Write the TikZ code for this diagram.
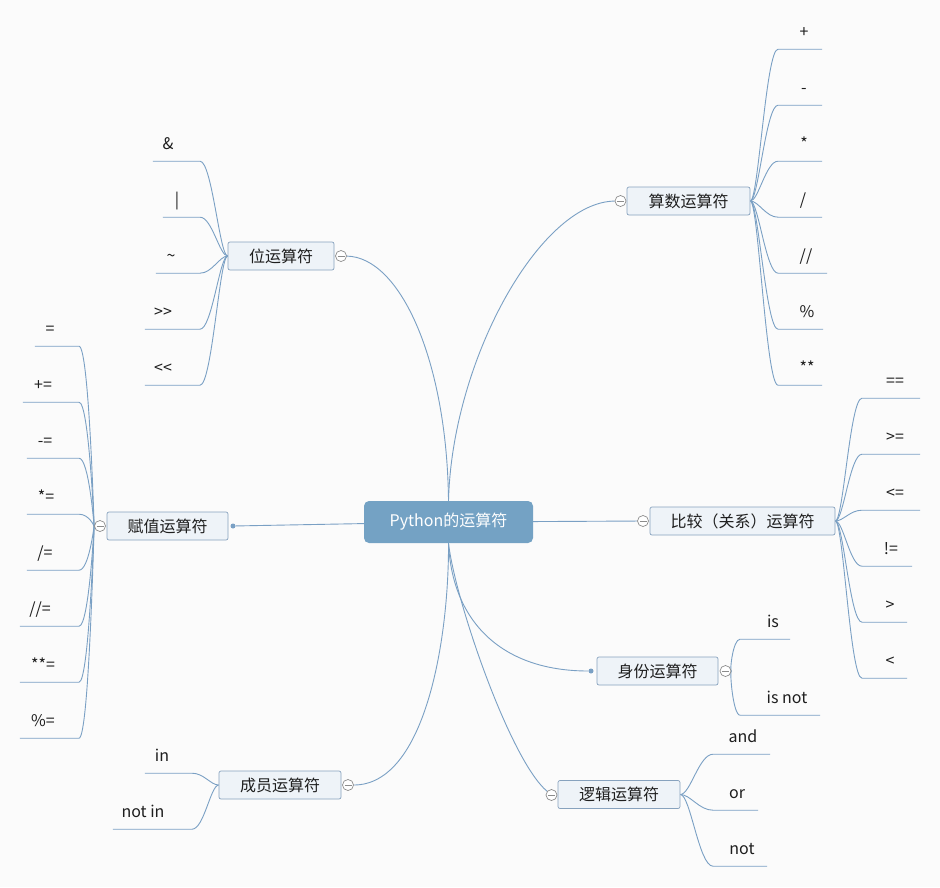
\documentclass[tikz,border=0pt]{standalone}
\usepackage{fontspec}
\newfontfamily\cjk{Noto Sans CJK SC}
\definecolor{linec}{RGB}{122,160,196}
\definecolor{boxfill}{RGB}{238,243,248}
\definecolor{boxdraw}{RGB}{135,162,190}
\definecolor{mainfill}{RGB}{116,162,196}
\definecolor{foldc}{RGB}{140,140,140}
\definecolor{textc}{RGB}{30,30,30}
\definecolor{bgc}{RGB}{251,251,251}
\pgfdeclarelayer{bg}
\pgfsetlayers{bg,main}
\begin{document}
\begin{tikzpicture}[x=1pt,y=-1pt,
 link/.style={draw=linec, line width=0.9pt},
 central/.style={fill=mainfill, rounded corners=5pt, minimum width=169pt, minimum height=42pt, inner sep=0, text=white, font=\cjk\fontsize{16}{19}\selectfont},
 branch/.style={draw=boxdraw, fill=boxfill, rounded corners=2pt, minimum height=28pt, inner sep=0, line width=0.7pt, text=textc, font=\cjk\fontsize{16}{19}\selectfont},
 leaf/.style={inner sep=0, minimum height=32pt, text height=11.5pt, text depth=3.5pt, text=textc, font=\cjk\fontsize{16}{19}\selectfont},
 fold/.style={circle, draw=foldc, fill=white, line width=0.7pt, minimum size=11pt, inner sep=0, path picture={\draw[foldc, line width=0.7pt] ([xshift=-3.5pt]path picture bounding box.center) -- ([xshift=3.5pt]path picture bounding box.center);}},
 dotm/.style={circle, fill=linec, minimum size=5pt, inner sep=0}]
\begin{pgfonlayer}{bg}
\fill[bgc] (0,0) rectangle (940,887);
\end{pgfonlayer}
\useasboundingbox (0,0) rectangle (940,887);

% central and branch nodes
\node[central] (c) at (448.5,522) {Python的运算符};
\node[branch, minimum width=123pt] (ar) at (688.5,201) {算数运算符};
\node[fold] (arF) at (620.5,201) {};
\node[branch, minimum width=106pt] (bit) at (281,256) {位运算符};
\node[fold] (bitF) at (341,256) {};
\node[branch, minimum width=121pt] (asg) at (167.5,526) {赋值运算符};
\node[fold] (asgF) at (100,526) {};
\node[dotm] (asgD) at (233,526) {};
\node[branch, minimum width=185pt] (cmp) at (742.5,521) {比较（关系）运算符};
\node[fold] (cmpF) at (643,521) {};
\node[branch, minimum width=121pt] (idn) at (657.5,671) {身份运算符};
\node[fold] (idnF) at (725.5,671) {};
\node[dotm] (idnD) at (591,671) {};
\node[branch, minimum width=122pt] (lg) at (619,794.5) {逻辑运算符};
\node[fold] (lgF) at (551.5,795) {};
\node[branch, minimum width=122pt] (mem) at (280,785) {成员运算符};
\node[fold] (memF) at (348,785) {};

% inner ends of leaf lines
\coordinate (arX) at (778,0);
\coordinate (cmpX) at (862,0);
\coordinate (idnX) at (740,0);
\coordinate (lgX) at (713,0);
\coordinate (bitX) at (200,0);
\coordinate (asgX) at (79,0);
\coordinate (memX) at (192,0);

% main connectors
\begin{pgfonlayer}{bg}
\draw[link] (c.north) .. controls (452,360) and (540,202) .. (arF);
\draw[link] (c.north) .. controls (447,360) and (400,257) .. (bitF);
\draw[link] (c) -- (asgD);
\draw[link] (c) -- (cmpF);
\draw[link] (c.south) .. controls (452,620) and (500,671) .. (idnD);
\draw[link] (c.south) .. controls (455,600) and (510,760) .. (lgF);
\draw[link] (c.south) .. controls (449,640) and (425,785) .. (memF);
\end{pgfonlayer}

% arithmetic leaves
\foreach \tx/\ly/\ox/\lab [count=\i] in {804/49/822/{+}, 804/105/822/{-}, 804/161/822/{*}, 803/217/822/{/}, 806/273/827/{//}, 807/329/823/{\%}, 807/385/822/{**}} {
  \node[leaf, minimum width={(\ox-\tx)*2pt}] (ar\i) at (\tx,\ly-16) {\lab};
  \begin{pgfonlayer}{bg}
  \draw[link] (ar.east) .. controls +(8,0) and +(-12,0) .. (ar\i.south west -| arX) -- (ar\i.south east);
  \end{pgfonlayer}
}
% comparison leaves
\foreach \tx/\ly/\ox/\lab [count=\i] in {895/398/920/{==}, 895/454/920/{>=}, 895/510/920/{<=}, 891/566/912/{!=}, 890/622/907/{>}, 890/678/907/{<}} {
  \node[leaf, minimum width={(\ox-\tx)*2pt}] (cmp\i) at (\tx,\ly-16) {\lab};
  \begin{pgfonlayer}{bg}
  \draw[link] (cmp.east) .. controls +(8,0) and +(-12,0) .. (cmp\i.south west -| cmpX) -- (cmp\i.south east);
  \end{pgfonlayer}
}
% identity leaves
\foreach \tx/\ly/\ox/\lab [count=\i] in {773/639/790/{is}, 787/715/820/{is not}} {
  \node[leaf, minimum width={(\ox-\tx)*2pt}] (idn\i) at (\tx,\ly-16) {\lab};
  \begin{pgfonlayer}{bg}
  \draw[link] (idnF) .. controls +(4,0) and +(-7,0) .. (idn\i.south west -| idnX) -- (idn\i.south east);
  \end{pgfonlayer}
}
% logic leaves
\foreach \tx/\ly/\ox/\lab [count=\i] in {743/754/770/{and}, 737/810/758/{or}, 742/866/767/{not}} {
  \node[leaf, minimum width={(\ox-\tx)*2pt}] (lg\i) at (\tx,\ly-16) {\lab};
  \begin{pgfonlayer}{bg}
  \draw[link] (lg.east) .. controls +(10,0) and +(-14,0) .. (lg\i.south west -| lgX) -- (lg\i.south east);
  \end{pgfonlayer}
}
% bitwise leaves
\foreach \tx/\ly/\ox/\lab [count=\i] in {168/161/153/{\&}, 177/217/163/{|}, 171/273/156/{\textasciitilde}, 163/329/145/{>\kern0pt>}, 163/385/145/{<\kern0pt<}} {
  \node[leaf, minimum width={(\tx-\ox)*2pt}] (bit\i) at (\tx,\ly-16) {\lab};
  \begin{pgfonlayer}{bg}
  \draw[link] (bit.west) .. controls +(-8,0) and +(12,0) .. (bit\i.south east -| bitX) -- (bit\i.south west);
  \end{pgfonlayer}
}
% assignment leaves
\foreach \tx/\ly/\ox/\lab [count=\i] in {50/346/35/{=}, 43/402/23/{+=}, 45/458/27/{-=}, 46/514/27/{*=}, 45/570/27/{/=}, 40/626/20/{//=}, 43/682/20/{**=}, 43/738/20/{\%=}} {
  \node[leaf, minimum width={(\tx-\ox)*2pt}] (asg\i) at (\tx,\ly-16) {\lab};
  \begin{pgfonlayer}{bg}
  \draw[link] (asgF) .. controls +(-6,0) and +(10,0) .. (asg\i.south east -| asgX) -- (asg\i.south west);
  \end{pgfonlayer}
}
% membership leaves
\foreach \tx/\ly/\ox/\lab [count=\i] in {162/773/145/{in}, 143/829/113/{not in}} {
  \node[leaf, minimum width={(\tx-\ox)*2pt}] (mem\i) at (\tx,\ly-16) {\lab};
  \begin{pgfonlayer}{bg}
  \draw[link] (mem.west) .. controls +(-8,0) and +(12,0) .. (mem\i.south east -| memX) -- (mem\i.south west);
  \end{pgfonlayer}
}
\end{tikzpicture}
\end{document}
